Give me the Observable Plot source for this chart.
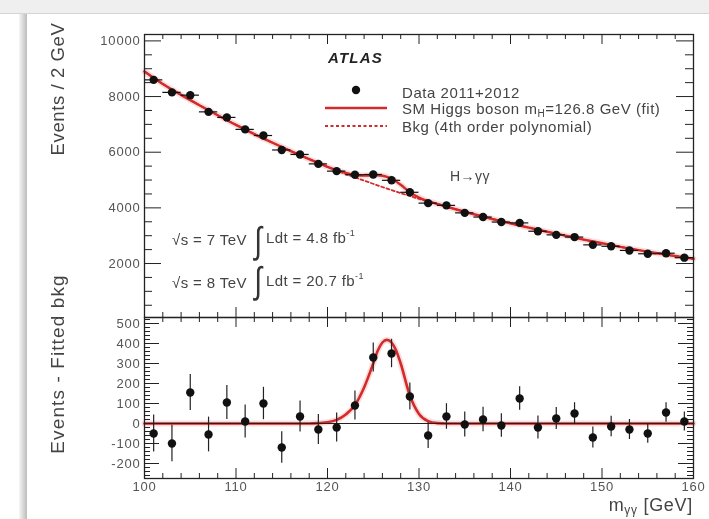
<!DOCTYPE html>
<html><head><meta charset="utf-8">
<script src="https://cdn.jsdelivr.net/npm/d3@7"></script>
<script src="https://cdn.jsdelivr.net/npm/@observablehq/plot@0.6"></script>
<style>
body{margin:0;background:#fff;}
#wrap{position:relative;width:709px;height:519px;overflow:hidden;font-family:"Liberation Sans",Arial,sans-serif;color:#333;filter:blur(0.3px);}
.abs{position:absolute;white-space:nowrap;line-height:1.15;}
sub{font-size:10px;vertical-align:-3px;line-height:0;}
sup{font-size:9px;vertical-align:7px;line-height:0;}
.leg{font-size:15px;letter-spacing:0.55px;color:#444;}
.ann{font-size:15px;letter-spacing:0.4px;color:#444;}
.intg{font-size:37px;line-height:1;font-weight:200;color:#333;transform:scaleX(0.75);}
</style></head><body>
<div id="wrap">
  <div class="abs" style="left:0;top:0;width:709px;height:13px;background:#efefef;border-bottom:1px solid #d4d4d4"></div>
  <div class="abs" style="left:19px;top:14px;width:8px;height:505px;background:linear-gradient(to right,#f6f6f6,#bcbcbc)"></div>
  <div id="bot" class="abs" style="left:0;top:312px"></div>
  <div id="top" class="abs" style="left:0;top:0"></div>

  <div class="abs" style="left:58px;top:89px;transform:translate(-50%,-50%) rotate(-90deg);font-size:18.5px;letter-spacing:0.6px;color:#444">Events / 2 GeV</div>
  <div class="abs" style="left:58px;top:364px;transform:translate(-50%,-50%) rotate(-90deg);font-size:19px;letter-spacing:1.1px;color:#444">Events - Fitted bkg</div>
  <div class="abs" style="right:16px;top:495px;font-size:18px;letter-spacing:0.7px;color:#444">m<sub style="font-size:12px">γγ</sub> [GeV]</div>

  <div class="abs" style="left:328px;top:49px;font-size:15px;letter-spacing:1.2px;font-weight:bold;font-style:italic;color:#222">ATLAS</div>
  <svg class="abs" style="left:0;top:0" width="709" height="200">
    <circle cx="356" cy="90" r="4.2" fill="#111"></circle>
    <line x1="325" x2="387" y1="108" y2="108" stroke="#d42a2a" stroke-width="2.6"></line>
    <line x1="325" x2="387" y1="126" y2="126" stroke="#d42a2a" stroke-width="1.8" stroke-dasharray="3,2.5"></line>
  </svg>
  <div class="abs leg" style="left:402px;top:84px;">Data 2011+2012</div>
  <div class="abs leg" style="left:402px;top:100px;">SM Higgs boson m<sub>H</sub>=126.8 GeV (fit)</div>
  <div class="abs leg" style="left:402px;top:118px;">Bkg (4th order polynomial)</div>
  <div class="abs" style="left:450px;top:168px;font-size:14px;letter-spacing:0.5px;color:#444">H→γγ</div>

  <div class="abs ann" style="left:172px;top:231px;">√s = 7 TeV</div>
  <div class="abs intg" style="left:253px;top:222px;">∫</div>
  <div class="abs ann" style="left:266px;top:229px;">Ldt = 4.8 fb<sup>-1</sup></div>
  <div class="abs ann" style="left:172px;top:274px;">√s = 8 TeV</div>
  <div class="abs intg" style="left:253px;top:262px;">∫</div>
  <div class="abs ann" style="left:266px;top:272px;">Ldt = 20.7 fb<sup>-1</sup></div>
</div>
<script>
// ---- data ----
const mass = [101,103,105,107,109,111,113,115,117,119,121,123,125,127,129,131,133,135,137,139,141,143,145,147,149,151,153,155,157,159];
const events = [8600,8150,8050,7450,7250,6820,6600,6080,5920,5580,5320,5190,5200,4990,4560,4170,4090,3820,3670,3490,3460,3160,3030,2950,2670,2620,2470,2350,2370,2210];
const residual = [-50,-100,155,-55,105,10,100,-120,35,-30,-20,90,330,350,135,-60,35,-5,20,-10,125,-20,25,50,-70,-15,-30,-50,55,10];
const errors = [93,91,90,87,85,83,81,79,77,75,73,72,72,71,68,65,64,62,61,59,59,57,55,54,52,51,50,49,49,47];

const bkgMass = [100,102,104,106,108,110,112,114,116,118,120,122,124,126,128,130,132,134,136,138,140,142,144,146,148,150,152,154,156,158,160];
const bkgValues = [8900,8450,8060,7690,7330,6980,6650,6340,6040,5750,5470,5215,4980,4750,4530,4325,4140,3950,3770,3600,3440,3290,3140,3000,2860,2730,2600,2480,2370,2270,2170];

const fitMass = [100,102,104,106,108,110,112,114,116,118,119,120,121,122,123,124,125,125.5,126,126.5,127,127.5,128,129,130,131,132,133,134,136,138,140,142,144,146,148,150,152,154,156,158,160];
const fitValues = [8900,8450,8060,7690,7330,6980,6650,6340,6040,5750,5612,5476,5358,5260,5190,5160,5165,5173,5155,5113,5045,4950,4830,4565,4370,4242,4142,4045,3950,3770,3600,3440,3290,3140,3000,2860,2730,2600,2480,2370,2270,2170];

const sigMass = [100,118,119,120,121,122,123,124,125,125.5,126,126.5,127,127.5,128,129,130,131,132,133,160];
const sigValues = [0,0,2,6,18,45,92,180,300,365,405,418,405,365,300,140,48,12,2,0,0];

const xTickLabels = [100,110,120,130,140,150,160];
const yTopLabels = [2000,4000,6000,8000,10000];
const yBotLabels = [-200,-100,0,100,200,300,400,500];

// ---- tables ----
const pts = mass.map((m,i)=>({m, v: events[i], r: residual[i], e: errors[i]}));
const bkg = bkgMass.map((m,i)=>({m, v: bkgValues[i]}));
const fit = fitMass.map((m,i)=>({m, v: fitValues[i]}));
const sig = sigMass.map((m,i)=>({m, v: sigValues[i]}));

const RED = "#d42a2a";
const W = 709, ML = 144, MR = 16;
const FW = W - ML - MR;
const style = {background:"transparent", fontFamily:"Liberation Sans, Arial, sans-serif", fontSize:"13px", letterSpacing:"0.8px", color:"#555", overflow:"visible"};

const xMajor = d3.range(100, 161, 10);
const xMinor = d3.range(100, 161, 2).filter(d => d % 10 !== 0);

function frameTicks(FH, yMajor, yMinor, yMajLen, yMinLen) {
  return [
    Plot.tickY(yMajor, {insetRight: FW - yMajLen, stroke:"#222"}),
    Plot.tickY(yMinor, {insetRight: FW - yMinLen, stroke:"#222"}),
    Plot.tickY(yMajor, {insetLeft: FW - yMajLen, stroke:"#222"}),
    Plot.tickY(yMinor, {insetLeft: FW - yMinLen, stroke:"#222"}),
    Plot.tickX(xMajor, {insetBottom: FH - 10, stroke:"#222"}),
    Plot.tickX(xMinor, {insetBottom: FH - 5, stroke:"#222"}),
    Plot.tickX(xMajor, {insetTop: FH - 10, stroke:"#222"}),
    Plot.tickX(xMinor, {insetTop: FH - 5, stroke:"#222"})
  ];
}

// ---- top panel ----
const topH = 330, topMT = 34, topMB = 13;
const topFH = topH - topMT - topMB;
const topPlot = Plot.plot({
  width: W, height: topH,
  marginLeft: ML, marginRight: MR, marginTop: topMT, marginBottom: topMB,
  style,
  x: {domain: [100, 160], axis: null},
  y: {domain: [60, 10230], axis: null},
  marks: [
    ...frameTicks(topFH, yTopLabels, d3.range(500, 10001, 500).filter(d => d % 2000 !== 0), 17, 8),
    Plot.axisY({ticks: yTopLabels, tickSize: 0, tickPadding: 4, tickFormat: d => String(d), label: null, fontSize: 13}),
    Plot.line(bkg, {x: "m", y: "v", stroke: RED, strokeWidth: 1.8, strokeDasharray: "3,2.5", curve: "monotone-x"}),
    Plot.line(fit, {x: "m", y: "v", stroke: RED, strokeWidth: 6, strokeOpacity: 0.15, curve: "monotone-x"}),
    Plot.line(fit, {x: "m", y: "v", stroke: RED, strokeWidth: 2.4, curve: "monotone-x"}),
    Plot.ruleY(pts, {y: "v", x1: d => d.m - 1, x2: d => d.m + 1, stroke: "#111", strokeWidth: 1.2}),
    Plot.ruleX(pts, {x: "m", y1: d => d.v - d.e, y2: d => d.v + d.e, stroke: "#111", strokeWidth: 1.2}),
    Plot.dot(pts, {x: "m", y: "v", r: 4.2, fill: "#111"}),
    Plot.frame({stroke: "#222", strokeWidth: 1.3})
  ]
});
document.getElementById("top").appendChild(topPlot);

// ---- bottom panel ----
const botH = 207, botMT = 5, botMB = 41;
const botFH = botH - botMT - botMB;
const botPlot = Plot.plot({
  width: W, height: botH,
  marginLeft: ML, marginRight: MR, marginTop: botMT, marginBottom: botMB,
  style,
  x: {domain: [100, 160], axis: null},
  y: {domain: [-275, 530], axis: null},
  marks: [
    ...frameTicks(botFH, yBotLabels, d3.range(-260, 521, 20).filter(d => d % 100 !== 0), 15, 6),
    Plot.axisY({ticks: yBotLabels, tickSize: 0, tickPadding: 4, tickFormat: d => String(d), label: null, fontSize: 13}),
    Plot.axisX({ticks: xTickLabels, tickSize: 0, tickPadding: 3, tickFormat: d => String(d), label: null, fontSize: 13}),
    Plot.line(sig, {x: "m", y: "v", stroke: RED, strokeWidth: 6, strokeOpacity: 0.15, curve: "monotone-x"}),
    Plot.line(sig, {x: "m", y: "v", stroke: RED, strokeWidth: 2.6, curve: "monotone-x"}),
    Plot.ruleY([0], {stroke: "#222", strokeWidth: 1}),
    Plot.ruleX(pts, {x: "m", y1: d => d.r - d.e, y2: d => d.r + d.e, stroke: "#222", strokeWidth: 1.2}),
    Plot.dot(pts, {x: "m", y: "r", r: 4.2, fill: "#111"}),
    Plot.frame({stroke: "#222", strokeWidth: 1.3})
  ]
});
document.getElementById("bot").appendChild(botPlot);
</script>
</body></html>
